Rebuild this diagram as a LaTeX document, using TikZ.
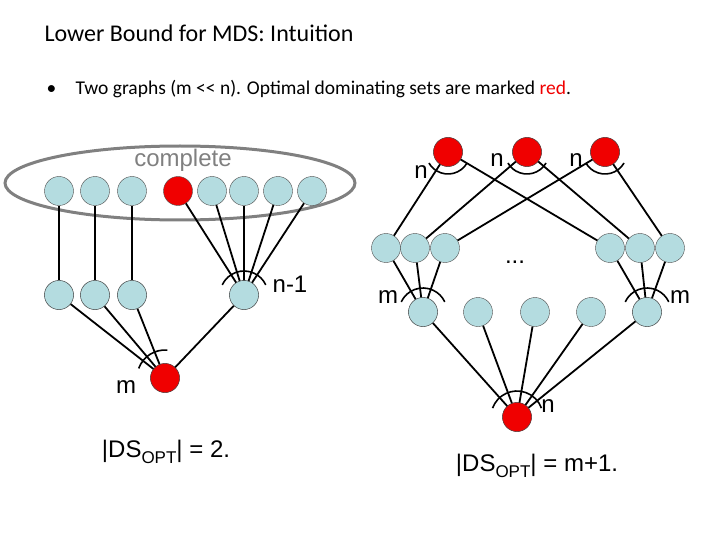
\documentclass[tikz,border=0pt]{standalone}
\usepackage{fontspec}
\setmainfont{Liberation Sans}
\newfontfamily\carlitofont{Carlito}
\definecolor{lb}{RGB}{180,220,224}
\definecolor{rd}{RGB}{240,0,0}
\begin{document}
\begin{tikzpicture}[x=1pt,y=-1pt,
  v/.style={circle,draw=black!70,fill=lb,minimum size=29pt,inner sep=0pt},
  r/.style={circle,draw=black!70,fill=rd,minimum size=29pt,inner sep=0pt},
  e/.style={line width=1.8pt},
  ac/.style={line width=1.6pt},
  lab/.style={font=\fontsize{24}{28}\selectfont,inner sep=0pt}]
\useasboundingbox (0,0) rectangle (720,540);
\node[anchor=west,font=\carlitofont\fontsize{24}{28}\selectfont] (title) at (41,33) {Lower Bound for MDS: Intuition};
\node[anchor=west,font=\carlitofont\fontsize{19.5}{23}\selectfont] (bul) at (43,89) {\textbullet\quad Two graphs (m << n). Optimal dominating sets are marked \textcolor{rd}{red}.};
% left graph
\draw[gray,line width=3pt] (180,183) ellipse [x radius=175, y radius=37];
\node[lab,text=gray] (cpl) at (183,160) {complete};
\foreach \n/\x in {t1/59,t2/95,t3/132,t5/212,t6/244,t7/278,t8/312} \node[v] (\n) at (\x,191) {};
\node[r] (t4) at (178,191) {};
\foreach \n/\x in {m1/59,m2/95,m3/132,m4/244} \node[v] (\n) at (\x,295) {};
\node[r] (b) at (165,378) {};
\foreach \i in {1,2,3} \draw[e] (t\i) -- (m\i);
\foreach \i in {4,...,8} \draw[e] (t\i) -- (m4.center);
\foreach \i in {1,...,4} \draw[e] (m\i) -- (b.center);
\foreach \i in {1,...,4} \node[v] at (m\i) {};
\node[r] at (b) {};
\draw[ac] (m4.center) ++(205:24) arc[start angle=205,end angle=335,radius=24];
\draw[ac] (b.center) ++(200:28) arc[start angle=200,end angle=275,radius=28];
\node[lab] (l1) at (290,284) {n-1};
\node[lab] (l2) at (126,387) {m};
\node[lab] (ds1) at (166,452) {|DS\raisebox{-0.5ex}{\fontsize{17}{20}\selectfont OPT}| = 2.};
% right graph
\foreach \n/\x in {R1/448,R2/527,R3/605} \node[r] (\n) at (\x,152) {};
\foreach \n/\x in {a1/386,a2/415,a3/445,c1/610,c2/640,c3/670} \node[v] (\n) at (\x,248) {};
\foreach \n/\x in {d1/423,d2/478,d3/535,d4/591,d5/647} \node[v] (\n) at (\x,312) {};
\node[r] (B) at (517,417) {};
\foreach \i in {1,2,3} {\draw[e] (R\i.center) -- (a\i); \draw[e] (R\i.center) -- (c\i);}
\foreach \i in {1,2,3} {\draw[e] (a\i) -- (d1.center); \draw[e] (c\i) -- (d5.center);}
\foreach \i in {1,...,5} \draw[e] (d\i) -- (B.center);
\foreach \n in {R1,R2,R3,B} \node[r] at (\n) {};
\foreach \n in {d1,d5} \node[v] at (\n) {};
\foreach \n in {R1,R2,R3} \draw[ac] (\n.center) ++(30:22) arc[start angle=30,end angle=150,radius=22];
\foreach \n in {d1,d5} \draw[ac] (\n.center) ++(205:24) arc[start angle=205,end angle=335,radius=24];
\draw[ac] (B.center) ++(200:26) arc[start angle=200,end angle=340,radius=26];
\node[lab] (n1) at (421,172) {n};
\node[lab] (n2) at (497,160) {n};
\node[lab] (n3) at (576,160) {n};
\node[lab] (m1l) at (388,297) {m};
\node[lab] (m2l) at (680,297) {m};
\node[lab] (n4) at (548,406) {n};
\node[lab] (dots) at (515,262) {...};
\node[lab] (ds2) at (537,466) {|DS\raisebox{-0.5ex}{\fontsize{17}{20}\selectfont OPT}| = m+1.};
\end{tikzpicture}
\end{document}
